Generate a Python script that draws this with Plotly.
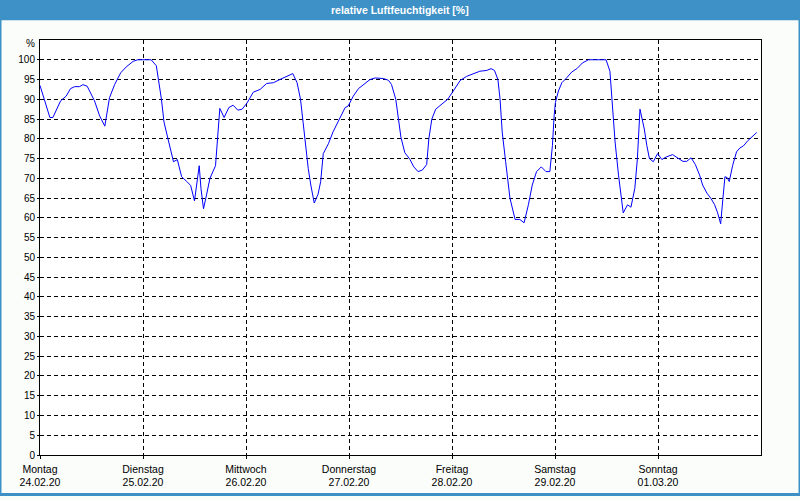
import plotly.graph_objects as go

# hours since Monday 24.02.20 00:00
hours = [0.0, 2.3, 3.0, 4.8, 6.1, 7.1, 8.1, 9.2, 10.0, 11.0, 12.7, 13.9, 15.1, 16.2, 17.4,
         18.8, 20.1, 21.7, 22.8, 25.9, 27.1, 28.3, 28.9, 30.1, 31.1, 32.0, 33.0, 34.2, 35.1,
         36.0, 36.6, 37.1, 37.5, 38.1, 38.8, 39.6, 40.9, 41.4, 41.9, 42.9, 44.0, 45.0, 46.1,
         47.1, 48.2, 49.7, 51.3, 52.8, 54.4, 55.9, 57.5, 58.9, 59.9, 60.7, 61.3, 61.9, 62.5,
         63.1, 63.9, 64.8, 65.4, 66.0, 67.2, 68.3, 69.5, 71.1, 71.8, 73.0, 74.2, 75.5, 76.9,
         78.1, 80.0, 81.2, 81.9, 82.9, 83.5, 84.1, 85.0, 86.2, 87.1, 88.1, 89.1, 90.1, 90.6,
         91.3, 92.2, 93.6, 95.0, 96.3, 97.9, 99.4, 101.0, 102.5, 104.1, 105.1, 105.9, 106.7,
         107.2, 107.7, 108.5, 109.5, 110.7, 111.8, 112.8, 113.8, 114.7, 115.7, 116.8, 117.9,
         118.8, 119.4, 119.8, 120.1, 120.8, 121.6, 122.7, 123.9, 125.1, 126.4, 127.8, 131.9,
         132.8, 133.4, 134.0, 134.8, 135.4, 135.9, 136.9, 137.7, 138.6, 139.2, 139.8, 140.2,
         140.8, 141.4, 142.0, 142.9, 143.9, 144.9, 145.9, 147.4, 148.6, 149.8, 150.7, 151.7,
         152.7, 153.7, 154.4, 155.4, 156.4, 157.2, 157.9, 158.6, 159.1, 159.6, 160.1, 160.6,
         161.4, 162.3, 163.1, 163.9, 165.0, 167.0]
humidity = [93.5, 85.4, 85.4, 89.6, 90.8, 92.7, 93.2, 93.2, 93.7, 93.3, 89.6, 85.8, 83.2, 90.4, 93.75,
            96.7, 98.2, 99.6, 100, 100, 98.5, 90, 84.2, 78.3, 74.2, 74.75, 70.4, 69.2, 68.2,
            64.3, 70, 73.2, 67.5, 62.3, 65.8, 70, 73.2, 80, 87.7, 85.4, 87.9, 88.5, 87.25,
            87.5, 89, 91.8, 92.5, 94, 94.2, 95, 95.8, 96.5, 94.2, 90, 84.2, 77.5, 72.5,
            68.3, 63.75, 66, 69.2, 76.25, 78.75, 81.8, 84.6, 87.9, 88.3, 90.8, 92.7, 93.9, 95,
            95.4, 95.25, 94.8, 93.75, 90, 85.8, 80.4, 76.5, 74.8, 72.9, 71.7, 72.1, 73.5, 80,
            85, 87.5, 88.75, 90, 92.1, 94.75, 95.8, 96.5, 97.1, 97.3, 97.75, 97.3, 95,
            90, 81.7, 74.2, 65, 59.6, 59.6, 58.75, 63.3, 68.3, 71.7, 72.9, 71.7,
            71.7, 78.3, 85.8, 89.2, 92.1, 94.2, 95.4, 96.9, 97.75, 99.2, 100, 100,
            97.1, 87.5, 79.2, 70.8, 65.8, 61.25, 63.3, 62.7, 67.5, 75, 87.5, 85.4,
            82.5, 78.3, 75, 74.2, 76.25, 74.75, 75.4, 76, 75.2, 74.3, 74.3, 75.2,
            73.5, 70.8, 68.3, 66.25, 64.8, 63.3, 61.25, 58.5, 64.6, 70.4, 70.2, 69.2,
            73.3, 76.7, 77.7, 78.2, 79.6, 81.6]

day_hours = [0, 24, 48, 72, 96, 120, 144]
day_names = ["Montag", "Dienstag", "Mittwoch", "Donnerstag", "Freitag", "Samstag", "Sonntag"]
day_dates = ["24.02.20", "25.02.20", "26.02.20", "27.02.20", "28.02.20", "29.02.20", "01.03.20"]
y_ticks = list(range(0, 101, 5))

FONT = "Liberation Sans"
BLUE_BAR = "#3d91c6"

fig = go.Figure()
fig.add_trace(go.Scatter(x=hours, y=humidity, mode="lines",
                         line=dict(color="#0000ff", width=1), hoverinfo="skip"))

W, H = 800, 500
L, R, T, B = 40, 39, 40, 40
pw, ph = W - L - R, H - T - B

fig.update_layout(
    width=W, height=H,
    margin=dict(l=L, r=R, t=T, b=B),
    paper_bgcolor="#fbfdfb",
    plot_bgcolor="#ffffff",
    showlegend=False,
    font=dict(family=FONT, size=10, color="#000000"),
)
fig.update_xaxes(
    range=[0, 168], tickmode="array", tickvals=day_hours,
    ticktext=[f"{n}<br>{d}" for n, d in zip(day_names, day_dates)],
    showgrid=True, gridcolor="#000000", griddash="4px,3px", gridwidth=1,
    showline=True, linecolor="#000000", linewidth=1, mirror=True,
    ticks="outside", ticklen=3, tickcolor="#000000", ticklabelstandoff=1,
    zeroline=False, tickfont=dict(size=10.5, family=FONT),
)
fig.update_yaxes(
    range=[0, 105], tickmode="array", tickvals=y_ticks,
    ticktext=[str(v) for v in y_ticks],
    showgrid=True, gridcolor="#000000", griddash="4px,3px", gridwidth=1,
    showline=True, linecolor="#000000", linewidth=1, mirror=True,
    ticks="outside", ticklen=2, tickcolor="#000000",
    zeroline=False, tickfont=dict(size=10, family=FONT),
)

# title bar
fig.add_shape(type="rect", xref="paper", yref="paper",
              x0=-L / pw - 0.01, x1=1 + R / pw + 0.01,
              y0=1 + 20 / ph, y1=1 + T / ph + 0.01,
              fillcolor=BLUE_BAR, line=dict(width=0), layer="above")
fig.add_annotation(text="<b>relative Luftfeuchtigkeit [%]</b>", xref="paper", yref="paper",
                   x=(400 - L) / pw, y=1 + 30 / ph, xanchor="center", yanchor="middle",
                   showarrow=False, font=dict(color="#ffffff", size=10.5, family=FONT))
# outer border
fig.add_shape(type="rect", xref="paper", yref="paper",
              x0=-L / pw, x1=1 + R / pw, y0=-B / ph, y1=1 + T / ph,
              line=dict(color=BLUE_BAR, width=3), fillcolor="rgba(0,0,0,0)", layer="above")
# unit label
fig.add_annotation(text="%", xref="paper", yref="y", x=-3 / pw, y=104,
                   xanchor="right", yanchor="middle", showarrow=False,
                   font=dict(size=10, family=FONT))

fig.write_html("out.html", config={"displayModeBar": False},
               post_script="document.body.style.margin='0';document.body.style.overflow='hidden';")
